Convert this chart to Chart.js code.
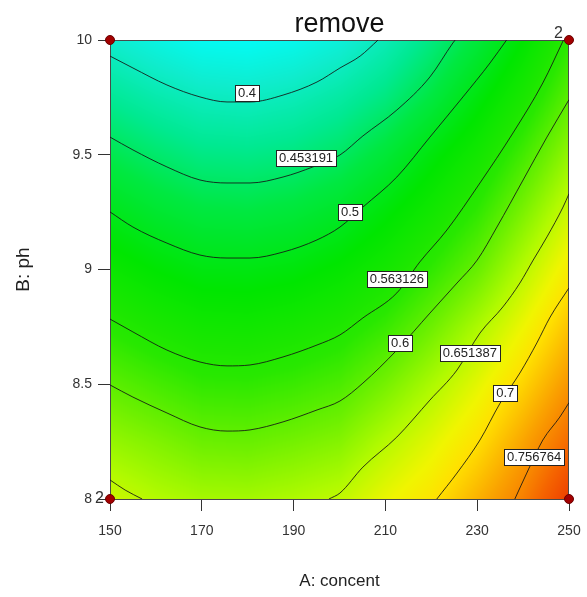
<!DOCTYPE html>
<html>
<head>
<meta charset="utf-8">
<title>remove</title>
<script src="https://cdn.jsdelivr.net/npm/chart.js@4.4.1/dist/chart.umd.min.js"></script>
<style>
  html, body { margin: 0; padding: 0; background: #fff; }
</style>
</head>
<body>
<canvas id="chart" width="587" height="597"></canvas>
<script>
// response surface "remove" over A: concent (x) and B: ph (y)
const gridConcent = [150, 160, 170, 180, 190, 200, 210, 220, 230, 240, 250];
const gridPh = [10, 9.75, 9.5, 9.25, 9, 8.75, 8.5, 8.25, 8];
const removeGrid = [
    [0.389, 0.374, 0.361, 0.358, 0.365, 0.380, 0.405, 0.438, 0.475, 0.520, 0.570],
    [0.427, 0.412, 0.400, 0.397, 0.404, 0.418, 0.439, 0.471, 0.510, 0.551, 0.599],
    [0.464, 0.449, 0.437, 0.435, 0.440, 0.453, 0.478, 0.511, 0.543, 0.585, 0.630],
    [0.500, 0.484, 0.473, 0.471, 0.477, 0.490, 0.514, 0.542, 0.574, 0.617, 0.661],
    [0.534, 0.519, 0.508, 0.507, 0.512, 0.525, 0.545, 0.574, 0.606, 0.649, 0.690],
    [0.567, 0.553, 0.542, 0.540, 0.547, 0.558, 0.579, 0.609, 0.643, 0.679, 0.719],
    [0.600, 0.587, 0.575, 0.574, 0.580, 0.590, 0.614, 0.643, 0.673, 0.708, 0.747],
    [0.631, 0.620, 0.608, 0.606, 0.613, 0.622, 0.648, 0.672, 0.700, 0.737, 0.776],
    [0.661, 0.648, 0.640, 0.639, 0.645, 0.654, 0.677, 0.697, 0.729, 0.762, 0.810]
];

// contour lines [concent, ph]
const c0400 = [[150, 9.930], [155, 9.878], [162.4, 9.804], [169.6, 9.752], [175.5, 9.730], [180.5, 9.730], [187.7, 9.760], [195.1, 9.817], [200.1, 9.878], [204.5, 9.930], [208.4, 10.0]];
const c0453 = [[150, 9.577], [155, 9.521], [162.4, 9.447], [169.6, 9.390], [175.5, 9.377], [180.5, 9.377], [187.7, 9.403], [194.2, 9.447], [200.1, 9.499], [205.1, 9.582], [212.5, 9.695], [219.7, 9.839], [224.7, 9.987], [225.2, 10.0]];
const c0500 = [[150, 9.251], [155, 9.185], [162.4, 9.115], [169.6, 9.063], [175.5, 9.050], [180.5, 9.050], [187.7, 9.076], [195.1, 9.129], [200.1, 9.185], [205.1, 9.272], [212.5, 9.403], [219.7, 9.577], [226.9, 9.752], [232.8, 9.900], [236.4, 10.0]];
const c0563 = [[150, 8.784], [155, 8.728], [162.4, 8.649], [169.6, 8.597], [175.5, 8.580], [180.5, 8.584], [187.7, 8.619], [195.1, 8.671], [200.1, 8.715], [205.1, 8.789], [212.5, 8.898], [217.5, 9.033], [223.4, 9.172], [230.6, 9.377], [237.8, 9.595], [244.3, 9.813], [248.8, 10.0]];
const c0600 = [[150, 8.497], [155, 8.444], [162.4, 8.375], [169.6, 8.314], [175.5, 8.296], [180.5, 8.301], [187.7, 8.336], [195.1, 8.388], [200.1, 8.427], [205.1, 8.505], [212.5, 8.649], [219.7, 8.810], [225.6, 8.941], [230.0, 9.041], [234.3, 9.185], [240.0, 9.390], [245.2, 9.577], [250, 9.740]];
const c0651a = [[150, 8.083], [153.3, 8.039], [157.0, 8.0]];
const c0651b = [[197.7, 8.0], [200.1, 8.026], [205.1, 8.139], [212.5, 8.270], [219.7, 8.431], [225.6, 8.562], [230.6, 8.723], [235.6, 8.837], [239.3, 8.941], [242.2, 9.041], [245.2, 9.142], [248.7, 9.272], [250, 9.330]];
const c0700 = [[221.2, 8.0], [225.6, 8.113], [230.6, 8.257], [235.0, 8.418], [239.3, 8.549], [243.0, 8.680], [245.9, 8.793], [250, 8.920]];
const c0757 = [[238.2, 8.0], [240.8, 8.113], [244.3, 8.257], [248.0, 8.357], [250, 8.420]];

const labelText = ['0.4', '0.453191', '0.5', '0.563126', '0.6', '0.651387', '0.7', '0.756764'];
const labelConcent = [179.85, 192.7, 202.3, 212.5, 213.2, 228.4, 236.1, 242.4];
const labelPh = [9.769, 9.486, 9.251, 8.959, 8.680, 8.636, 8.462, 8.183];

// design points and how many runs sit on each
const designConcent = [150, 250, 150, 250];
const designPh = [10, 10, 8, 8];
const designRuns = [1, 2, 2, 1];

const FONT = "'Liberation Sans', Arial, sans-serif";

// blue-green-yellow-red ramp, as used by the surface
const ramp = [
    [0.35, 0, 255, 255], [0.39, 15, 236, 205], [0.43, 0, 233, 145], [0.47, 0, 232, 65],
    [0.52, 0, 230, 0], [0.57, 40, 232, 0], [0.61, 110, 240, 0], [0.645, 175, 250, 0],
    [0.68, 240, 245, 0], [0.70, 255, 225, 0], [0.74, 250, 160, 0], [0.78, 245, 100, 0], [0.82, 235, 50, 0]
];

function colorFor(v) {
    if (v <= ramp[0][0]) return ramp[0].slice(1);
    for (let i = 1; i < ramp.length; i++) {
        if (v <= ramp[i][0]) {
            const a = ramp[i - 1], b = ramp[i];
            const t = (v - a[0]) / (b[0] - a[0]);
            return [a[1] + (b[1] - a[1]) * t, a[2] + (b[2] - a[2]) * t, a[3] + (b[3] - a[3]) * t];
        }
    }
    return ramp[ramp.length - 1].slice(1);
}

function cellIndex(arr, v) {
    for (let i = 0; i < arr.length - 1; i++) {
        const lo = Math.min(arr[i], arr[i + 1]), hi = Math.max(arr[i], arr[i + 1]);
        if (v >= lo && v <= hi) return i;
    }
    return v < Math.min(arr[0], arr[arr.length - 1]) === (arr[0] < arr[1]) ? 0 : arr.length - 2;
}

function sampleSurface(c, p) {
    const i = cellIndex(gridConcent, c), j = cellIndex(gridPh, p);
    const tx = Math.min(1, Math.max(0, (c - gridConcent[i]) / (gridConcent[i + 1] - gridConcent[i])));
    const ty = Math.min(1, Math.max(0, (p - gridPh[j]) / (gridPh[j + 1] - gridPh[j])));
    const r0 = removeGrid[j][i] * (1 - tx) + removeGrid[j][i + 1] * tx;
    const r1 = removeGrid[j + 1][i] * (1 - tx) + removeGrid[j + 1][i + 1] * tx;
    return r0 * (1 - ty) + r1 * ty;
}

const surfacePlugin = {
    id: 'surface',
    beforeDatasetsDraw(chart) {
        const { ctx, chartArea: a, scales: { x, y } } = chart;
        const w = Math.round(a.right - a.left), h = Math.round(a.bottom - a.top);
        const img = ctx.createImageData(w, h);
        for (let j = 0; j < h; j++) {
            const p = y.getValueForPixel(a.top + j + 0.5);
            for (let i = 0; i < w; i++) {
                const col = colorFor(sampleSurface(x.getValueForPixel(a.left + i + 0.5), p));
                const k = (j * w + i) * 4;
                img.data[k] = col[0]; img.data[k + 1] = col[1]; img.data[k + 2] = col[2]; img.data[k + 3] = 255;
            }
        }
        ctx.putImageData(img, Math.round(a.left), Math.round(a.top));
        ctx.save();
        ctx.strokeStyle = '#4a4a4a';
        ctx.lineWidth = 1;
        ctx.strokeRect(Math.round(a.left) + 0.5, Math.round(a.top) + 0.5, w - 1, h);
        ctx.restore();
    }
};

const labelsPlugin = {
    id: 'contourLabels',
    afterDatasetsDraw(chart) {
        const { ctx, scales: { x, y }, chartArea: a } = chart;
        ctx.save();
        ctx.font = '13px ' + FONT;
        ctx.textAlign = 'center';
        ctx.textBaseline = 'middle';
        labelText.forEach((t, i) => {
            const px = x.getPixelForValue(labelConcent[i]), py = y.getPixelForValue(labelPh[i]);
            const bw = Math.round(ctx.measureText(t).width + 6), bh = 16;
            const bx = Math.round(px - bw / 2) + 0.5, by = Math.round(py - bh / 2) + 0.5;
            ctx.fillStyle = '#fff';
            ctx.fillRect(bx, by, bw, bh);
            ctx.strokeStyle = '#222';
            ctx.lineWidth = 1;
            ctx.strokeRect(bx, by, bw, bh);
            ctx.fillStyle = '#222';
            ctx.fillText(t, px, py + 0.5);
        });
        // run counts beside replicated design points
        ctx.font = '16px ' + FONT;
        ctx.textAlign = 'right';
        ctx.fillStyle = '#333';
        designRuns.forEach((n, i) => {
            if (n < 2) return;
            const px = x.getPixelForValue(designConcent[i]), py = y.getPixelForValue(designPh[i]);
            const dy = py <= a.top + 1 ? -6 : 0;
            ctx.fillText(String(n), px - 6, py + dy);
        });
        ctx.restore();
    }
};

const contours = [c0400, c0453, c0500, c0563, c0600, c0651a, c0651b, c0700, c0757];

const datasets = [{
    label: 'design',
    data: designConcent.map((c, i) => ({ x: c, y: designPh[i] })),
    pointRadius: 4.5,
    pointBackgroundColor: '#a30000',
    pointBorderColor: '#6a0000',
    pointBorderWidth: 1,
    showLine: false,
    clip: false
}].concat(contours.map((pts, i) => ({
    label: 'contour ' + i,
    data: pts.map(p => ({ x: p[0], y: p[1] })),
    showLine: true,
    pointRadius: 0,
    borderColor: 'rgba(20,20,20,0.85)',
    borderWidth: 1,
    cubicInterpolationMode: 'monotone'
})));

new Chart(document.getElementById('chart'), {
    type: 'scatter',
    data: { datasets },
    options: {
        responsive: false,
        animation: false,
        layout: { autoPadding: false, padding: { left: 0, right: 18, top: 0, bottom: 0 } },
        plugins: {
            legend: { display: false },
            tooltip: { enabled: false },
            title: {
                display: true, text: 'remove', color: '#111', fullSize: false,
                font: { family: FONT, size: 27, weight: 'normal', lineHeight: 1 },
                padding: { top: 11, bottom: 2 }
            }
        },
        scales: {
            x: {
                type: 'linear', min: 150, max: 250,
                ticks: { stepSize: 20, color: '#333', font: { family: FONT, size: 14 }, padding: 12 },
                grid: { drawOnChartArea: false, drawTicks: true, tickLength: 12, color: '#333' },
                border: { display: true, color: '#333' },
                title: { display: true, text: 'A: concent', color: '#222', font: { family: FONT, size: 17 }, padding: { top: 0, bottom: 5 } },
                afterFit(scale) {
                    scale.height = 98;
                    scale.paddingLeft = 0;
                    scale.paddingRight = 0;
                }
            },
            y: {
                type: 'linear', min: 8, max: 10,
                ticks: { stepSize: 0.5, color: '#333', font: { family: FONT, size: 14 }, padding: 6, callback: v => String(+v.toFixed(2)) },
                grid: { drawOnChartArea: false, drawTicks: true, tickLength: 12, color: '#333' },
                border: { display: true, color: '#333' },
                title: { display: true, text: 'B: ph', color: '#222', font: { family: FONT, size: 19 }, padding: { top: 12, bottom: 0 } },
                afterFit(scale) {
                    scale.width = 110;
                    scale.paddingTop = 0;
                    scale.paddingBottom = 0;
                }
            }
        }
    },
    plugins: [surfacePlugin, labelsPlugin]
});
</script>
</body>
</html>
